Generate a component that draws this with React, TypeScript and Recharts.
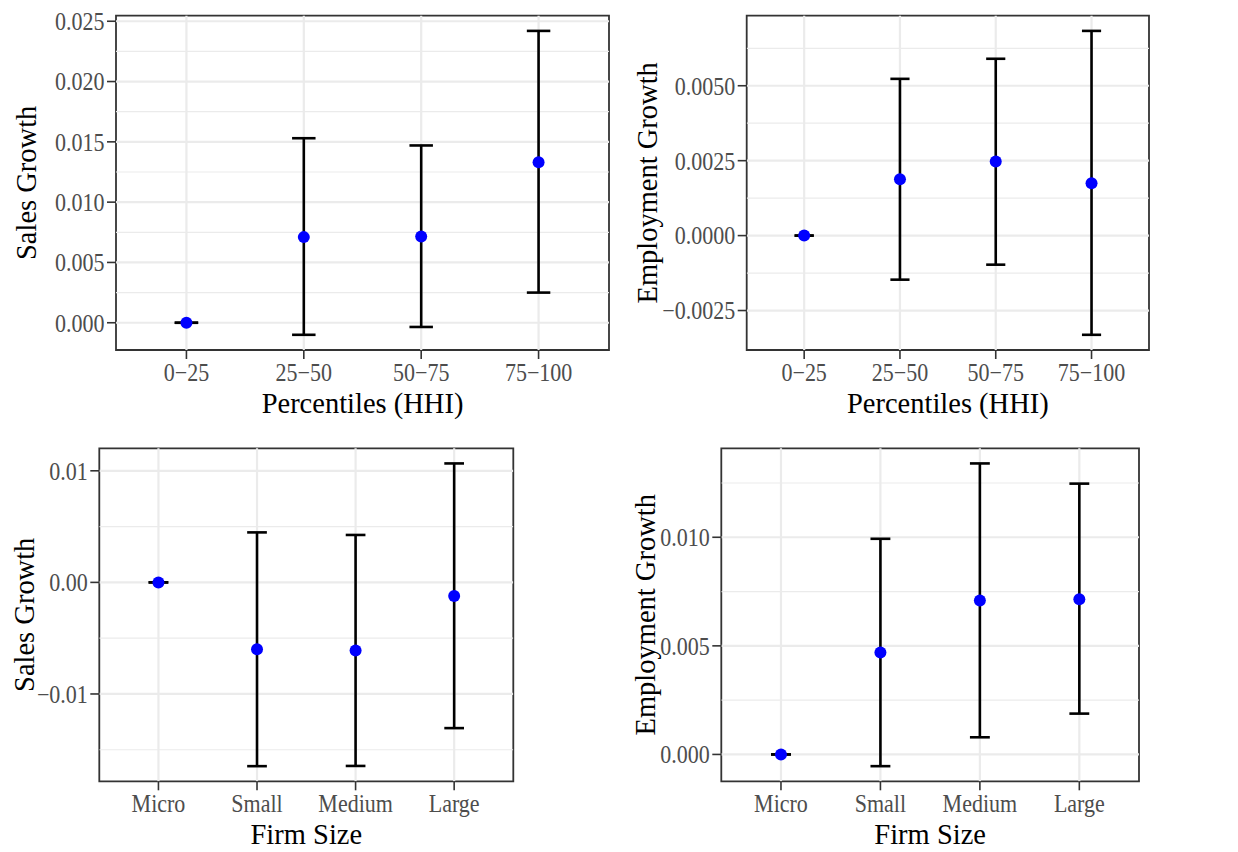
import React from "react";
import {
  ScatterChart,
  Scatter,
  XAxis,
  YAxis,
  ErrorBar,
  ReferenceLine,
  ReferenceArea,
} from "recharts";

// categories
const hhiLabels = ["0−25", "25−50", "50−75", "75−100"];
const sizeLabels = ["Micro", "Small", "Medium", "Large"];

// sales growth by HHI percentile
const salesHhiEst = [0, 0.0071, 0.00715, 0.0133];
const salesHhiLow = [0, -0.001, -0.00035, 0.0025];
const salesHhiHigh = [0, 0.0153, 0.0147, 0.0242];

// employment growth by HHI percentile
const empHhiEst = [0, 0.00188, 0.00247, 0.00175];
const empHhiLow = [0, -0.00147, -0.00097, -0.00331];
const empHhiHigh = [0, 0.00523, 0.0059, 0.00683];

// sales growth by firm size
const salesSizeEst = [0, -0.006, -0.0061, -0.00122];
const salesSizeLow = [0, -0.01647, -0.01645, -0.01306];
const salesSizeHigh = [0, 0.00448, 0.00425, 0.01066];

// employment growth by firm size
const empSizeEst = [0, 0.00469, 0.00709, 0.00715];
const empSizeLow = [0, -0.00054, 0.00079, 0.00188];
const empSizeHigh = [0, 0.00993, 0.0134, 0.01247];

// y ticks (major) and minor grid values
const salesHhiTicks = [0, 0.005, 0.01, 0.015, 0.02, 0.025];
const salesHhiMinor = [0.0025, 0.0075, 0.0125, 0.0175, 0.0225];
const empHhiTicks = [-0.0025, 0, 0.0025, 0.005];
const empHhiMinor = [-0.00125, 0.00125, 0.00375, 0.00625];
const salesSizeTicks = [-0.01, 0, 0.01];
const salesSizeMinor = [-0.015, -0.005, 0.005];
const empSizeTicks = [0, 0.005, 0.01];
const empSizeMinor = [0.0025, 0.0075, 0.0125];

const FONT = "'Liberation Serif', 'Times New Roman', serif";
const GRID = "#EBEBEB";
// the reference serif is a bit narrower than Liberation Serif
const TICK_SIZE = 25;
const TICK_SQUEEZE = 0.88;
const TITLE_SIZE = 30;
const TITLE_SQUEEZE = 0.95;

const fmt = (digits: number) => (v: number) =>
  (Math.abs(v) < 1e-12 ? 0 : v).toFixed(digits).replace("-", "\u2212");

const Dot = (props: any) => (
  <circle cx={props.cx} cy={props.cy} r={6} fill="#0000FF" />
);

type PanelProps = {
  left: number;
  top: number;
  width: number;
  height: number;
  margin: { top: number; right: number; bottom: number; left: number };
  yAxisWidth: number;
  xAxisHeight: number;
  labels: string[];
  est: number[];
  low: number[];
  high: number[];
  ticks: number[];
  minor: number[];
  digits: number;
  yTitle: string;
  xTitle: string;
  titleX: number;
  xTitleOffset: number;
};

const Panel = (p: PanelProps) => {
  const data = p.est.map((v, i) => ({
    x: i + 1,
    y: v,
    err: [v - p.low[i], p.high[i] - v],
  }));
  const lo = Math.min(...p.low);
  const hi = Math.max(...p.high);
  const pad = (hi - lo) * 0.05;
  const yDomain = [lo - pad, hi + pad];
  const xDomain = [0.4, p.labels.length + 0.6];
  const plotW = p.width - p.margin.left - p.margin.right - p.yAxisWidth;
  const capHalf = (0.1 * plotW) / (xDomain[1] - xDomain[0]);
  const cats = p.labels.map((_, i) => i + 1);
  const yFmt = fmt(p.digits);

  const XTick = (t: any) => (
    <text
      transform={`translate(${t.x},${t.y}) scale(${TICK_SQUEEZE},1)`}
      textAnchor="middle"
      dy="0.71em"
      fill="#4D4D4D"
      fontSize={TICK_SIZE}
      fontFamily={FONT}
    >
      {p.labels[t.payload.value - 1]}
    </text>
  );

  const YTick = (t: any) => (
    <text
      transform={`translate(${t.x},${t.y}) scale(${TICK_SQUEEZE},1)`}
      textAnchor="end"
      dy="0.355em"
      fill="#4D4D4D"
      fontSize={TICK_SIZE}
      fontFamily={FONT}
    >
      {yFmt(t.payload.value)}
    </text>
  );

  const XTitle = (l: any) => {
    const vb = l.viewBox || { x: 0, y: 0, width: 0, height: 0 };
    const x = vb.x + vb.width / 2;
    const y = vb.y + vb.height - p.xTitleOffset;
    return (
      <text
        transform={`translate(${x},${y}) scale(${TITLE_SQUEEZE},1)`}
        textAnchor="middle"
        fill="#000"
        fontSize={TITLE_SIZE}
        fontFamily={FONT}
      >
        {p.xTitle}
      </text>
    );
  };

  const YTitle = (l: any) => {
    const vb = l.viewBox || { x: 0, y: 0, width: 0, height: 0 };
    const y = vb.y + vb.height / 2;
    return (
      <text
        transform={`translate(${p.titleX},${y}) rotate(-90) scale(${TITLE_SQUEEZE},1)`}
        textAnchor="middle"
        dy="0.355em"
        fill="#000"
        fontSize={TITLE_SIZE}
        fontFamily={FONT}
      >
        {p.yTitle}
      </text>
    );
  };

  return (
    <div style={{ position: "absolute", left: p.left, top: p.top }}>
      <ScatterChart width={p.width} height={p.height} margin={p.margin}>
        <XAxis
          type="number"
          dataKey="x"
          domain={xDomain}
          ticks={cats}
          allowDataOverflow
          interval={0}
          axisLine={false}
          tickLine={{ stroke: "#333333", strokeWidth: 1.6 }}
          tickSize={9}
          tickMargin={4}
          height={p.xAxisHeight}
          tick={XTick}
          label={{ value: p.xTitle, content: XTitle }}
        />
        <YAxis
          type="number"
          dataKey="y"
          domain={yDomain}
          ticks={p.ticks}
          allowDataOverflow
          interval={0}
          axisLine={false}
          tickLine={{ stroke: "#333333", strokeWidth: 1.6 }}
          tickSize={9}
          tickMargin={2.5}
          width={p.yAxisWidth}
          tick={YTick}
          label={{ value: p.yTitle, content: YTitle }}
        />
        {p.minor.map((v) => (
          <ReferenceLine
            key={"mn" + v}
            y={v}
            stroke={GRID}
            strokeWidth={1.2}
            ifOverflow="hidden"
          />
        ))}
        {p.ticks.map((v) => (
          <ReferenceLine
            key={"mj" + v}
            y={v}
            stroke={GRID}
            strokeWidth={2.2}
            ifOverflow="hidden"
          />
        ))}
        {cats.map((v) => (
          <ReferenceLine key={"vx" + v} x={v} stroke={GRID} strokeWidth={2.2} />
        ))}
        <Scatter data={data} shape={Dot} isAnimationActive={false}>
          <ErrorBar
            dataKey="err"
            direction="y"
            width={capHalf}
            stroke="#000000"
            strokeWidth={2.6}
            isAnimationActive={false}
          />
        </Scatter>
        <ReferenceArea
          x1={xDomain[0]}
          x2={xDomain[1]}
          y1={yDomain[0]}
          y2={yDomain[1]}
          fill="none"
          fillOpacity={0}
          stroke="#333333"
          strokeWidth={1.8}
          ifOverflow="visible"
        />
      </ScatterChart>
    </div>
  );
};

export default function App() {
  return (
    <div
      style={{
        position: "absolute",
        left: 0,
        top: 0,
        width: 1238,
        height: 852,
        background: "#fff",
        fontFamily: FONT,
      }}
    >
      <Panel
        left={0}
        top={0}
        width={620}
        height={426}
        margin={{ top: 15.7, right: 11, bottom: 0, left: 0 }}
        yAxisWidth={116}
        xAxisHeight={76}
        labels={hhiLabels}
        est={salesHhiEst}
        low={salesHhiLow}
        high={salesHhiHigh}
        ticks={salesHhiTicks}
        minor={salesHhiMinor}
        digits={3}
        yTitle="Sales Growth"
        xTitle="Percentiles (HHI)"
        titleX={25}
        xTitleOffset={13}
      />
      <Panel
        left={620}
        top={0}
        width={618}
        height={426}
        margin={{ top: 15.7, right: 89, bottom: 0, left: 0 }}
        yAxisWidth={126.7}
        xAxisHeight={76}
        labels={hhiLabels}
        est={empHhiEst}
        low={empHhiLow}
        high={empHhiHigh}
        ticks={empHhiTicks}
        minor={empHhiMinor}
        digits={4}
        yTitle="Employment Growth"
        xTitle="Percentiles (HHI)"
        titleX={26}
        xTitleOffset={13}
      />
      <Panel
        left={0}
        top={426}
        width={620}
        height={426}
        margin={{ top: 22.3, right: 106.7, bottom: 0, left: 0 }}
        yAxisWidth={99.3}
        xAxisHeight={70.7}
        labels={sizeLabels}
        est={salesSizeEst}
        low={salesSizeLow}
        high={salesSizeHigh}
        ticks={salesSizeTicks}
        minor={salesSizeMinor}
        digits={2}
        yTitle="Sales Growth"
        xTitle="Firm Size"
        titleX={23}
        xTitleOffset={8}
      />
      <Panel
        left={620}
        top={426}
        width={618}
        height={426}
        margin={{ top: 22.3, right: 99, bottom: 0, left: 0 }}
        yAxisWidth={101.3}
        xAxisHeight={70.7}
        labels={sizeLabels}
        est={empSizeEst}
        low={empSizeLow}
        high={empSizeHigh}
        ticks={empSizeTicks}
        minor={empSizeMinor}
        digits={3}
        yTitle="Employment Growth"
        xTitle="Firm Size"
        titleX={24}
        xTitleOffset={8}
      />
    </div>
  );
}
